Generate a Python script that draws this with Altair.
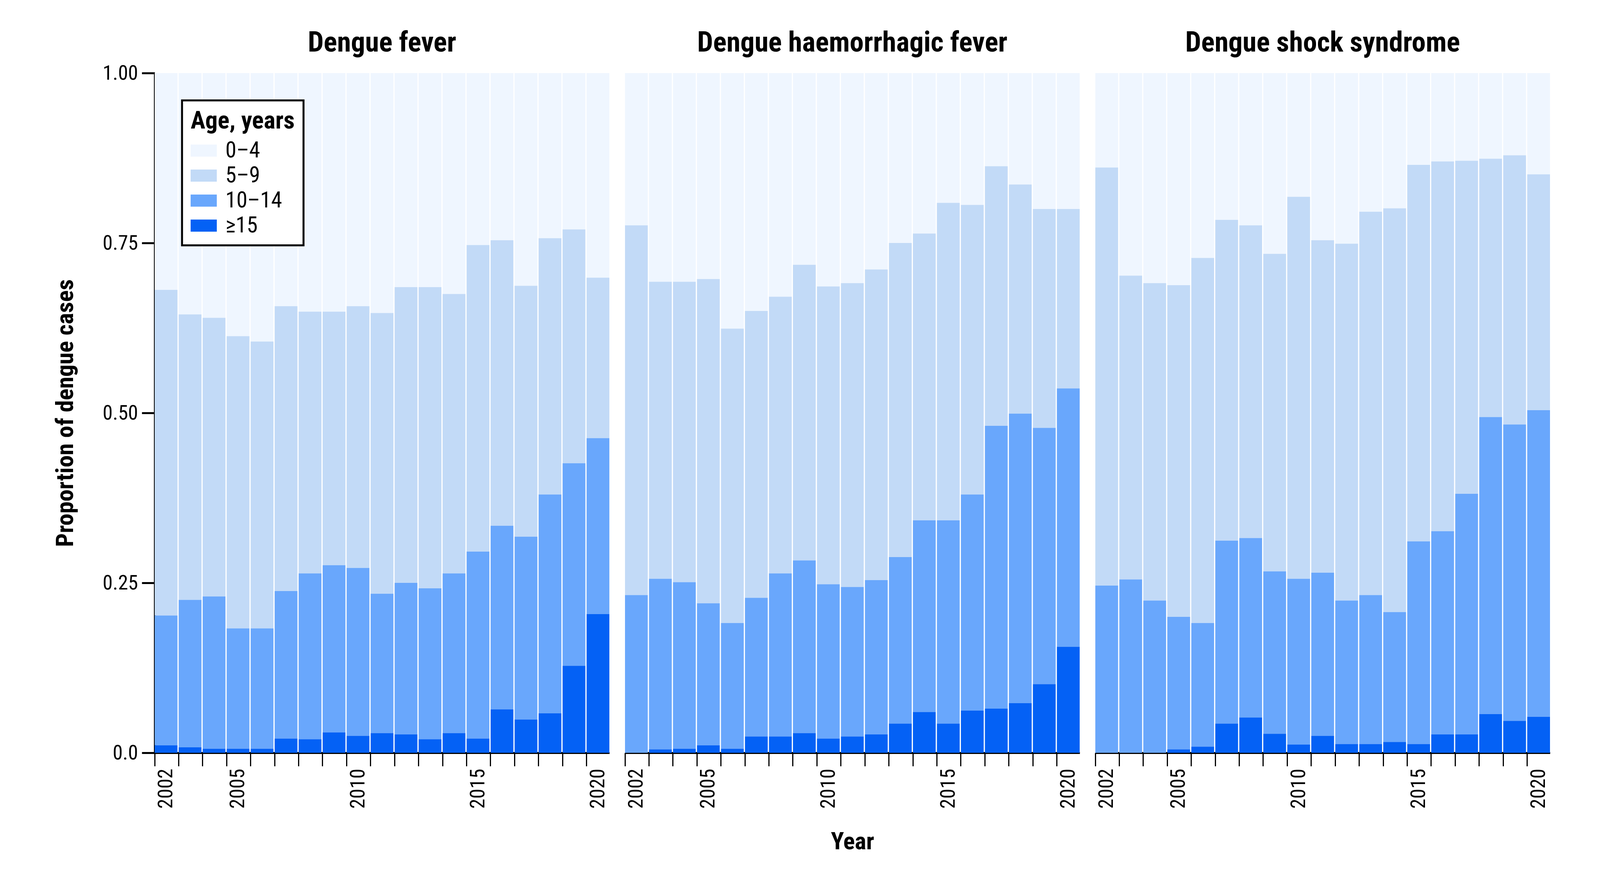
import altair as alt
import pandas as pd

years = list(range(2002, 2021))
panels = ["Dengue fever", "Dengue haemorrhagic fever", "Dengue shock syndrome"]
age_groups = ["0–4", "5–9", "10–14", "≥15"]
colors = ["#EFF6FF", "#C2DAF7", "#69A7FC", "#0461F5"]
year_labels = ["2002", "2005", "2010", "2015", "2020"]

# Stack boundaries: share of cases aged >=5, >=10, >=15
df_ge5 = [0.681, 0.645, 0.640, 0.613, 0.605, 0.657, 0.649, 0.649, 0.657, 0.647,
          0.685, 0.685, 0.675, 0.747, 0.754, 0.687, 0.757, 0.770, 0.699]
df_ge10 = [0.202, 0.225, 0.230, 0.183, 0.183, 0.238, 0.264, 0.276, 0.272, 0.234,
           0.250, 0.242, 0.264, 0.296, 0.334, 0.318, 0.380, 0.426, 0.463]
df_ge15 = [0.011, 0.008, 0.006, 0.006, 0.006, 0.021, 0.020, 0.030, 0.025, 0.029,
           0.027, 0.020, 0.029, 0.021, 0.064, 0.049, 0.058, 0.128, 0.204]

dhf_ge5 = [0.776, 0.693, 0.693, 0.697, 0.624, 0.650, 0.671, 0.718, 0.686, 0.691,
           0.711, 0.750, 0.764, 0.809, 0.806, 0.863, 0.836, 0.800, 0.800]
dhf_ge10 = [0.232, 0.256, 0.251, 0.220, 0.191, 0.228, 0.264, 0.283, 0.248, 0.244,
            0.254, 0.288, 0.342, 0.342, 0.380, 0.481, 0.499, 0.478, 0.536]
dhf_ge15 = [0.000, 0.005, 0.006, 0.011, 0.006, 0.024, 0.024, 0.029, 0.021, 0.024,
            0.027, 0.043, 0.060, 0.043, 0.062, 0.065, 0.073, 0.101, 0.156]

dss_ge5 = [0.861, 0.702, 0.691, 0.688, 0.728, 0.784, 0.776, 0.734, 0.818, 0.754,
           0.749, 0.796, 0.801, 0.865, 0.870, 0.871, 0.874, 0.879, 0.851]
dss_ge10 = [0.246, 0.255, 0.224, 0.200, 0.191, 0.312, 0.316, 0.267, 0.256, 0.265,
            0.224, 0.232, 0.207, 0.311, 0.326, 0.381, 0.494, 0.483, 0.504]
dss_ge15 = [0.000, 0.000, 0.000, 0.005, 0.009, 0.043, 0.052, 0.028, 0.012, 0.025,
            0.013, 0.013, 0.016, 0.013, 0.027, 0.027, 0.057, 0.047, 0.053]

FONT = "Liberation Sans Narrow, Roboto Condensed, DejaVu Sans Condensed, Arial Narrow, sans-serif"
PW, PH = 1164, 1740


def table(ge5, ge10, ge15):
    rows = []
    for i, yr in enumerate(years):
        bounds = [(ge5[i], 1.0), (ge10[i], ge5[i]), (ge15[i], ge10[i]), (0.0, ge15[i])]
        for ag, (lo, hi) in zip(age_groups, bounds):
            rows.append({"year": yr, "age": ag, "lo": lo, "hi": hi})
    return pd.DataFrame(rows)


def panel(name, ge5, ge10, ge15, idx):
    xaxis = alt.Axis(
        bandPosition=0, labelAngle=270, labelOverlap=False,
        labelExpr="indexof(" + str(year_labels) + ", datum.label) >= 0 ? datum.label : ''",
        domainWidth=5, domainColor="black", tickColor="black", tickWidth=3,
        tickSize=34, labelFontSize=52, labelPadding=6, labelColor="black",
        titleFontSize=62, titleFontWeight="bold", titlePadding=55, titleColor="black",
    )
    x = alt.X("year:O", scale=alt.Scale(paddingInner=0.05, paddingOuter=0),
              axis=xaxis, title="Year" if idx == 1 else None)
    if idx == 0:
        y = alt.Y("lo:Q", scale=alt.Scale(domain=[0, 1], nice=False),
                  title="Proportion of dengue cases",
                  axis=alt.Axis(values=[0, 0.25, 0.5, 0.75, 1.0],
                                labelExpr="datum.value == 0 ? '0.0' : format(datum.value, '.2f')",
                                grid=False, domainWidth=5, domainColor="black",
                                tickColor="black", tickWidth=5, tickSize=33,
                                labelFontSize=52, labelPadding=10, labelColor="black",
                                titleFontSize=62, titleFontWeight="bold",
                                titlePadding=63, titleColor="black"))
        color = alt.Color("age:N", sort=age_groups,
                          scale=alt.Scale(domain=age_groups, range=colors),
                          legend=alt.Legend(title="Age, years", orient="top-left", offset=70,
                                            titleFontSize=63, titleFontWeight="bold",
                                            titleColor="black", labelColor="black",
                                            titleLimit=1000, labelLimit=1000,
                                            labelFontSize=57, symbolType="M-1,-0.46H1V0.46H-1Z",
                                            symbolSize=4489, symbolStrokeWidth=0,
                                            symbolOpacity=1,
                                            fillColor="white", strokeColor="black",
                                            padding=22, rowPadding=2, labelOffset=22,
                                            titlePadding=10))
        title_offset = 14
    else:
        y = alt.Y("lo:Q", scale=alt.Scale(domain=[0, 1], nice=False), axis=None)
        color = alt.Color("age:N", sort=age_groups,
                          scale=alt.Scale(domain=age_groups, range=colors), legend=None)
        title_offset = 40
    return alt.Chart(table(ge5, ge10, ge15)).mark_bar().encode(
        x=x, y=y, y2="hi:Q", color=color
    ).properties(
        width=PW, height=PH,
        title=alt.TitleParams(name, fontSize=72, fontWeight="bold", font=FONT,
                              anchor="middle", offset=title_offset, color="black",
                              frame="group"),
    )


chart = alt.hconcat(
    panel(panels[0], df_ge5, df_ge10, df_ge15, 0),
    panel(panels[1], dhf_ge5, dhf_ge10, dhf_ge15, 1),
    panel(panels[2], dss_ge5, dss_ge10, dss_ge15, 2),
    spacing=38,
).resolve_scale(color="independent").resolve_legend(color="independent").configure_view(
    stroke=None
).configure_axis(
    labelFont=FONT, titleFont=FONT
).configure_legend(
    labelFont=FONT, titleFont=FONT, strokeWidth=5
).properties(background="white", padding={"left": 128, "top": 66, "right": 5, "bottom": 5})

chart.save("out.html", embed_options={"renderer": "svg", "actions": False})
